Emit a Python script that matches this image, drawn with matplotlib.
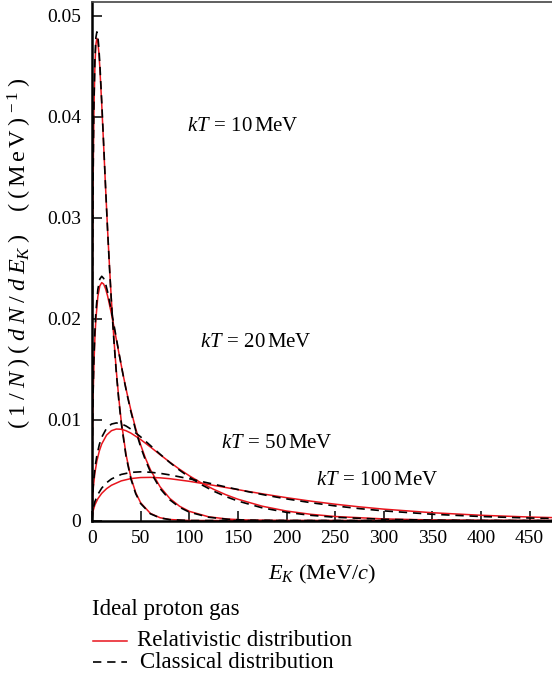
import numpy as np
import matplotlib
matplotlib.use("Agg")
import matplotlib.pyplot as plt

plt.rcParams['font.family'] = ['Liberation Serif', 'DejaVu Serif']
plt.rcParams['mathtext.fontset'] = 'custom'
plt.rcParams['mathtext.rm'] = 'Liberation Serif'
plt.rcParams['mathtext.it'] = 'Liberation Serif:italic'
plt.rcParams['mathtext.bf'] = 'Liberation Serif:bold'

# kinetic energy samples (MeV) and distribution values ((MeV)^-1)
e_10 = [0, 0.1, 0.3, 0.6, 1, 1.5, 2, 3, 4, 5, 6, 7, 8, 10, 12, 14, 16, 18, 20,
        22.5, 25, 27.5, 30, 35, 40, 45, 50, 60, 70, 80, 100, 480]
cl_10 = [0, 0.011172, 0.018967, 0.026030, 0.032287, 0.037615, 0.041316, 0.045786,
         0.047838, 0.048394, 0.047969, 0.046881, 0.045349, 0.041511, 0.037230,
         0.032924, 0.028817, 0.025025, 0.021596, 0.017840, 0.014645, 0.011962,
         0.009730, 0.006375, 0.004133, 0.002659, 0.001700, 0.000685, 0.000272,
         0.000107, 0.000016, 0.0]
rel_10 = [0, 0.010954, 0.018601, 0.025538, 0.031694, 0.036948, 0.040611, 0.045064,
          0.047146, 0.047758, 0.047401, 0.046387, 0.044931, 0.041237, 0.037082,
          0.032880, 0.028854, 0.025123, 0.021737, 0.018015, 0.014837, 0.012158,
          0.009922, 0.006543, 0.004269, 0.002764, 0.001779, 0.000726, 0.000292,
          0.000116, 0.000018, 0.0]

e_20 = [0, 0.2, 0.6, 1.2, 2, 3, 4, 6, 8, 10, 12, 14, 16, 20, 24, 28, 32, 36, 40,
        45, 50, 55, 60, 70, 80, 90, 100, 120, 140, 160, 200, 480]
cl_20 = [0, 0.0055858, 0.0094833, 0.013015, 0.016143, 0.018807, 0.020658, 0.022893,
         0.023919, 0.024197, 0.023984, 0.023441, 0.022674, 0.020755, 0.018615,
         0.016462, 0.014408, 0.012512, 0.010798, 0.0089198, 0.0073225, 0.0059812,
         0.0048652, 0.0031874, 0.0020667, 0.0013296, 0.00085, 0.00034265,
         0.00013615, 0.0000535, 0.0000081, 0.0]
rel_20 = [0, 0.0053707, 0.0091229, 0.012530, 0.015558, 0.018150, 0.019963, 0.022181,
          0.023237, 0.023569, 0.023423, 0.022954, 0.022261, 0.020484, 0.018468,
          0.016417, 0.014443, 0.012608, 0.010937, 0.0090923, 0.0075118, 0.0061749,
          0.0050545, 0.0033532, 0.0022014, 0.0014338, 0.0009279, 0.00038318,
          0.00015591, 0.0000627, 0.0000099, 0.0]

e_50 = [0, 0.5, 1.5, 3, 5, 7.5, 10, 15, 20, 25, 30, 35, 40, 50, 60, 70, 80, 90,
        100, 112.5, 125, 137.5, 150, 175, 200, 225, 250, 300, 350, 400, 500]
cl_50 = [0, 0.0022343, 0.0037933, 0.0052060, 0.0064574, 0.0075229, 0.0082632,
         0.0091571, 0.0095675, 0.0096788, 0.0095937, 0.0093762, 0.0090697,
         0.0083021, 0.0074460, 0.0065847, 0.0057634, 0.0050049, 0.0043193,
         0.0035679, 0.0029290, 0.0023925, 0.0019461, 0.0012749, 0.00082668,
         0.00053184, 0.00034, 0.00013706, 0.00005446, 0.00002142, 0.00000324]
rel_50 = [0, 0.0020285, 0.0034484, 0.0047421, 0.0058977, 0.0068936, 0.0075970,
          0.0084745, 0.0089125, 0.0090751, 0.0090539, 0.0089060, 0.0086705,
          0.0080386, 0.0073016, 0.0065384, 0.0057945, 0.0050943, 0.0044505,
          0.0037323, 0.0031101, 0.0025783, 0.0021282, 0.0014350, 0.00095716,
          0.00063308, 0.00041587, 0.00017674, 0.0000739, 0.0000305, 0.0000051]

e_100 = [0, 1, 3, 6, 10, 15, 20, 30, 40, 50, 60, 70, 80, 100, 120, 140, 160, 180,
         200, 225, 250, 275, 300, 350, 400, 450, 500]
cl_100 = [0, 0.0011172, 0.0018967, 0.0026030, 0.0032287, 0.0037615, 0.0041316,
          0.0045786, 0.0047838, 0.0048394, 0.0047969, 0.0046881, 0.0045349,
          0.0041511, 0.0037230, 0.0032924, 0.0028817, 0.0025025, 0.0021596,
          0.0017840, 0.0014645, 0.0011962, 0.00097304, 0.00063747, 0.00041334,
          0.00026592, 0.00017]
rel_100 = [0, 0.00092543, 0.0015753, 0.0021706, 0.0027066, 0.0031741, 0.0035093,
           0.0039399, 0.0041699, 0.0042726, 0.0042890, 0.0042446, 0.0041573,
           0.0038999, 0.0035831, 0.0032447, 0.0029070, 0.0025830, 0.0022799,
           0.0019363, 0.0016333, 0.0013702, 0.0011441, 0.00078871, 0.00053718,
           0.00036242, 0.00024260]

curves = [(e_10, cl_10, rel_10), (e_20, cl_20, rel_20),
          (e_50, cl_50, rel_50), (e_100, cl_100, rel_100)]
kt_labels = [r'$kT\,=\,10\,\mathrm{MeV}$', r'$kT\,=\,20\,\mathrm{MeV}$',
             r'$kT\,=\,50\,\mathrm{MeV}$', r'$kT\,=\,100\,\mathrm{MeV}$']
label_pos = [(98, 0.0390), (111, 0.0176), (133, 0.0076), (230, 0.0040)]

x_ticks = [0, 50, 100, 150, 200, 250, 300, 350, 400, 450]
y_ticks = [0, 0.01, 0.02, 0.03, 0.04, 0.05]
y_ticklabels = ['0', '0.01', '0.02', '0.03', '0.04', '0.05']

RED = '#e8141c'

fig = plt.figure(figsize=(5.52, 6.83), dpi=100)
ax = fig.add_axes([92 / 552, 1 - 520.7 / 683, 1 - 92 / 552, 519.2 / 683])

for e, cl, rel in curves:
    ax.plot(e, rel, color=RED, lw=1.1, zorder=2)
    ax.plot(e, cl, color='black', lw=1.2, dashes=(5, 3.5), zorder=3)

for txt, (x, y) in zip(kt_labels, label_pos):
    ax.text(x, y, txt, fontsize=15, ha='left', va='center')

ax.set_xlim(0, 473)
ax.set_ylim(0, 0.0514)
ax.set_xticks(x_ticks)
ax.set_yticks(y_ticks)
ax.set_yticklabels(y_ticklabels)
ax.tick_params(direction='in', length=7, width=1.1, labelsize=14, pad=8, colors='black')
ax.tick_params(axis='x', pad=7)

for side in ['left', 'bottom']:
    ax.spines[side].set_linewidth(1.8)
ax.spines['top'].set_linewidth(1.2)
ax.spines['top'].set_color('#444444')
ax.spines['right'].set_visible(False)

ax.set_xlabel(r'$E_K\ (\mathrm{MeV}/c)$', fontsize=16, labelpad=11)
ylab = (r'$(\;1\;/\;N\;)\;(\;d\;N\;/\;d\;E_K\;)\quad\;'
        r'(\;(\;\mathrm{M\,e\,V}\;)^{\,-1}\;)$')
ax.set_ylabel(ylab, fontsize=17.5)
ax.yaxis.set_label_coords(-0.125, 0.5156)

# legend drawn below the axes in figure coordinates
fig.text(92 / 552, 1 - 610 / 683, 'Ideal proton gas', fontsize=16.5, ha='left', va='center')
fig.add_artist(plt.Line2D([93 / 552, 127 / 552], [1 - 641 / 683] * 2,
                          color=RED, lw=1.1))
fig.text(137 / 552, 1 - 641 / 683, 'Relativistic distribution', fontsize=16.5,
         ha='left', va='center')
fig.add_artist(plt.Line2D([93 / 552, 127 / 552], [1 - 662 / 683] * 2,
                          color='black', lw=1.2, dashes=(5, 3.5)))
fig.text(140 / 552, 1 - 662 / 683, 'Classical distribution', fontsize=16.5,
         ha='left', va='center')

fig.savefig('out.png', dpi=100)
